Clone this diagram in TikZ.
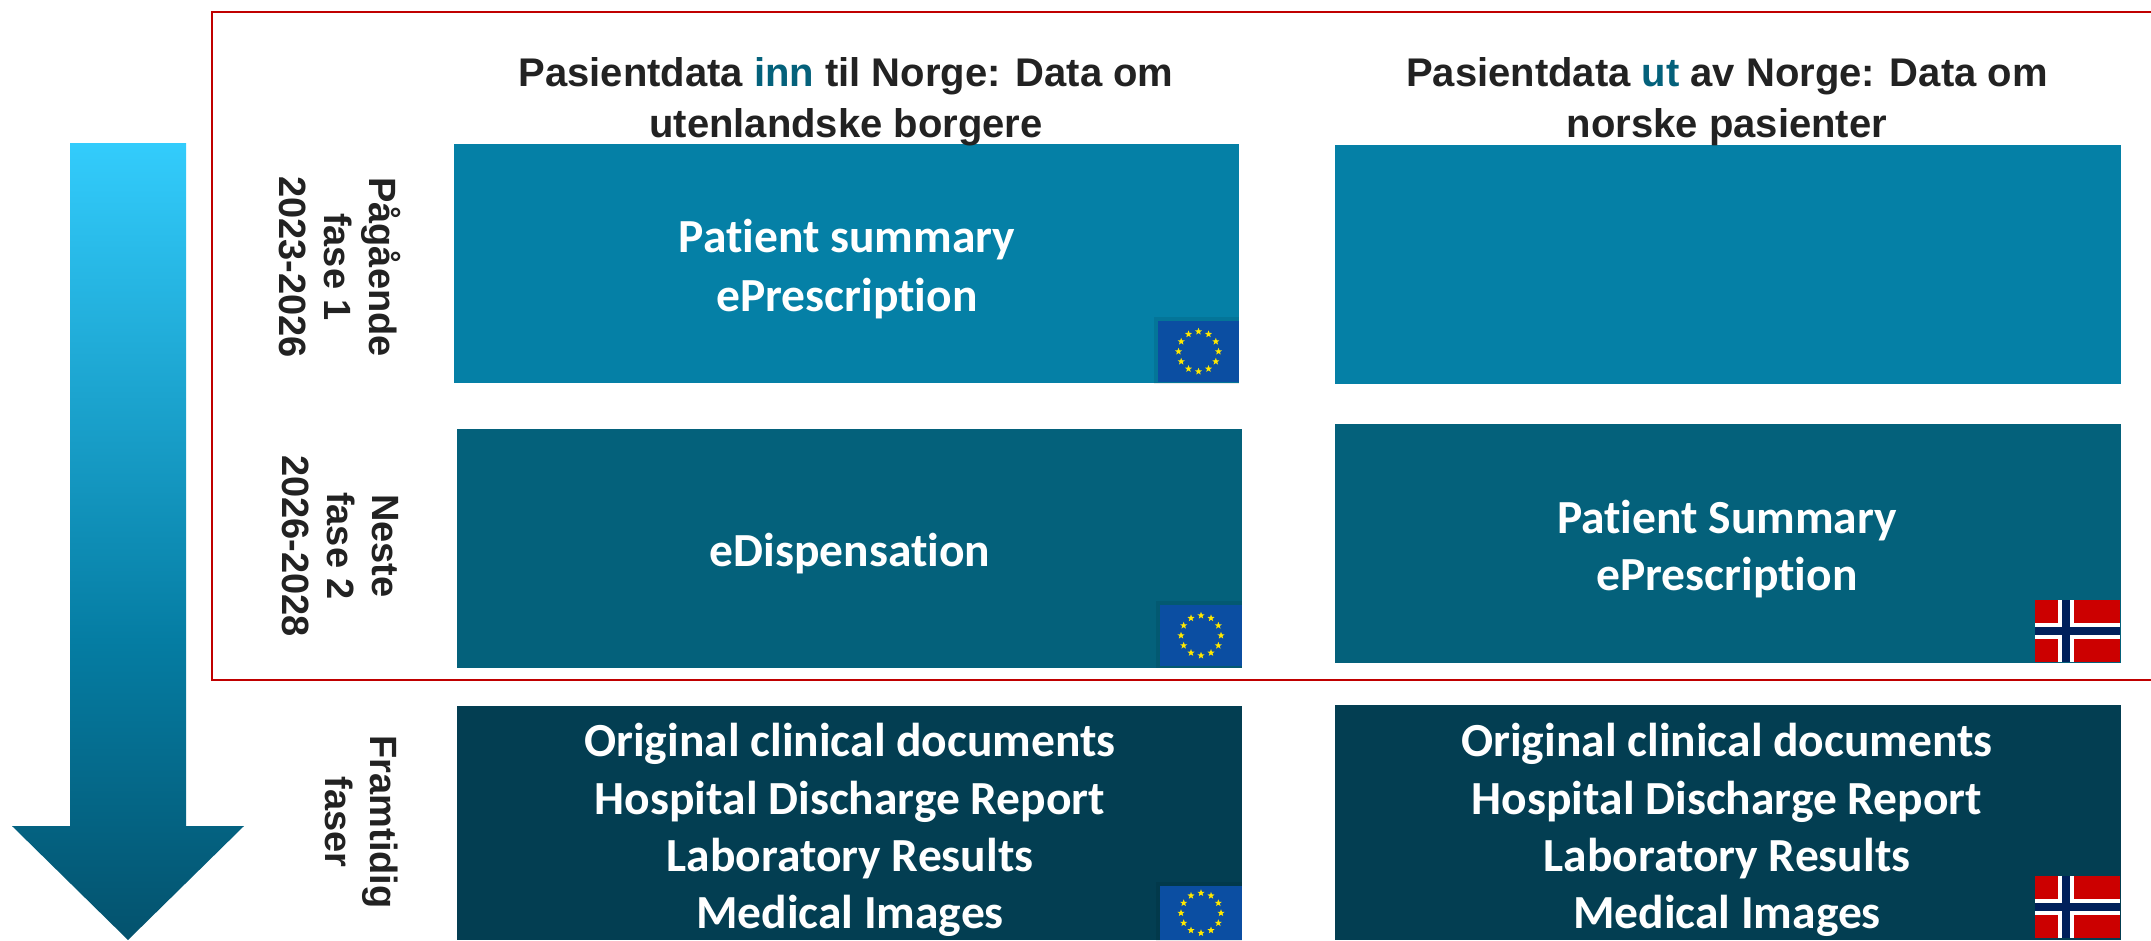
\documentclass[tikz,border=0pt]{standalone}
\usepackage{fontspec}
\usetikzlibrary{shapes.geometric,calc}
\setmainfont{Liberation Sans}
\newfontfamily\boxfont[Ligatures=NoCommon]{Carlito}
\definecolor{tealA}{HTML}{0580A6}
\definecolor{tealB}{HTML}{04617B}
\definecolor{tealC}{HTML}{033E52}
\definecolor{redline}{HTML}{C00000}
\definecolor{euA}{HTML}{0B4EA2}
\definecolor{euS}{HTML}{FFE800}
\definecolor{noR}{HTML}{CC0000}
\definecolor{noB}{HTML}{00205B}
\definecolor{txt}{HTML}{222222}
\definecolor{ag0}{HTML}{04526D}
\definecolor{ag1}{HTML}{057DA3}
\definecolor{ag2}{HTML}{33CCFC}
\pgfdeclareverticalshading{arrowgrad}{100bp}{
 color(0bp)=(ag0);
 color(25bp)=(ag0);
 color(43.8bp)=(ag1);
 color(75bp)=(ag2);
 color(100bp)=(ag2)}
\tikzset{
 boxtext/.style={text=white,font=\boxfont\bfseries\fontsize{47.5}{57.3}\selectfont,align=center},
 head/.style={text=txt,font=\bfseries\fontsize{40}{51}\selectfont,align=center},
 phase/.style={text=txt,font=\bfseries\fontsize{38}{45}\selectfont,align=center,rotate=-90},
}
\newcommand{\euflag}[4]{%
 \fill[black,opacity=.08] (#1-4,#2-4) rectangle (#3,#4+2);
 \fill[euA] (#1,#2) rectangle (#3,#4);
 \foreach \a in {0,30,...,330}
  \node[star,star points=5,star point ratio=2.4,fill=euS,inner sep=0pt,minimum size=7.5,draw=none]
   at ($(#1,#2)!0.5!(#3,#4)+(\a:20)$) {};
}
\newcommand{\noflag}[4]{%
 \fill[noR] (#1,#2) rectangle (#3,#4);
 \pgfmathsetmacro{\cx}{#1+0.365*(#3-#1)}
 \pgfmathsetmacro{\cy}{(#2+#4)/2}
 \fill[white] (\cx-8,#2) rectangle (\cx+8,#4);
 \fill[white] (#1,\cy-8) rectangle (#3,\cy+8);
 \fill[noB] (\cx-3.7,#2) rectangle (\cx+3.7,#4);
 \fill[noB] (#1,\cy-3.7) rectangle (#3,\cy+3.7);
}
\begin{document}
\begin{tikzpicture}[x=1pt,y=-1pt]
\useasboundingbox (0,0) rectangle (2151,940);
% arrow
\shade[shading=arrowgrad] (70,143) -- (186,143) -- (186,826) -- (244,826) -- (128,940) -- (12,826) -- (70,826) -- cycle;
% frame
\draw[redline,line width=2.4] (2151,12) -- (212,12) -- (212,680) -- (2151,680);
% panels
\fill[tealA] (454,144) rectangle (1239,383);
\fill[tealA] (1335,145) rectangle (2121,384);
\fill[tealB] (457,429) rectangle (1242,668);
\fill[tealB] (1335,424) rectangle (2121,663);
\fill[tealC] (457,706) rectangle (1242,940);
\fill[tealC] (1335,705) rectangle (2121,940);
% flags
\euflag{1158}{321}{1239}{382}
\euflag{1160}{605}{1242}{666}
\euflag{1160}{886}{1242}{940}
\noflag{2035}{600}{2120}{662}
\noflag{2035}{876}{2120}{938}
% headings
\node[head] (h1) at (846,102) {Pasientdata {\color{tealB}inn} til Norge: Data om\\utenlandske borgere};
\node[head] (h2) at (1727,102) {Pasientdata {\color{tealB}ut} av Norge: Data om\\norske pasienter};
% text
\node[boxtext] (t1) at (847,269) {Patient summary\\[1.7pt]ePrescription};
\node[boxtext] (t2) at (850,554) {eDispensation};
\node[boxtext] (t3) at (1727,549) {Patient Summary\\ePrescription};
\node[boxtext] (t4) at (850,830) {Original clinical documents\\Hospital Discharge Report\\Laboratory Results\\Medical Images};
\node[boxtext] (t5) at (1727,830) {Original clinical documents\\Hospital Discharge Report\\Laboratory Results\\Medical Images};
% phases
\node[phase] (p1) at (340,267) {Pågående\\fase 1\\2023-2026};
\node[phase] (p2) at (340,546) {Neste\\fase 2\\2026-2028};
\node[phase] (p3) at (362,822) {Framtidig\\faser};
\end{tikzpicture}
\end{document}
